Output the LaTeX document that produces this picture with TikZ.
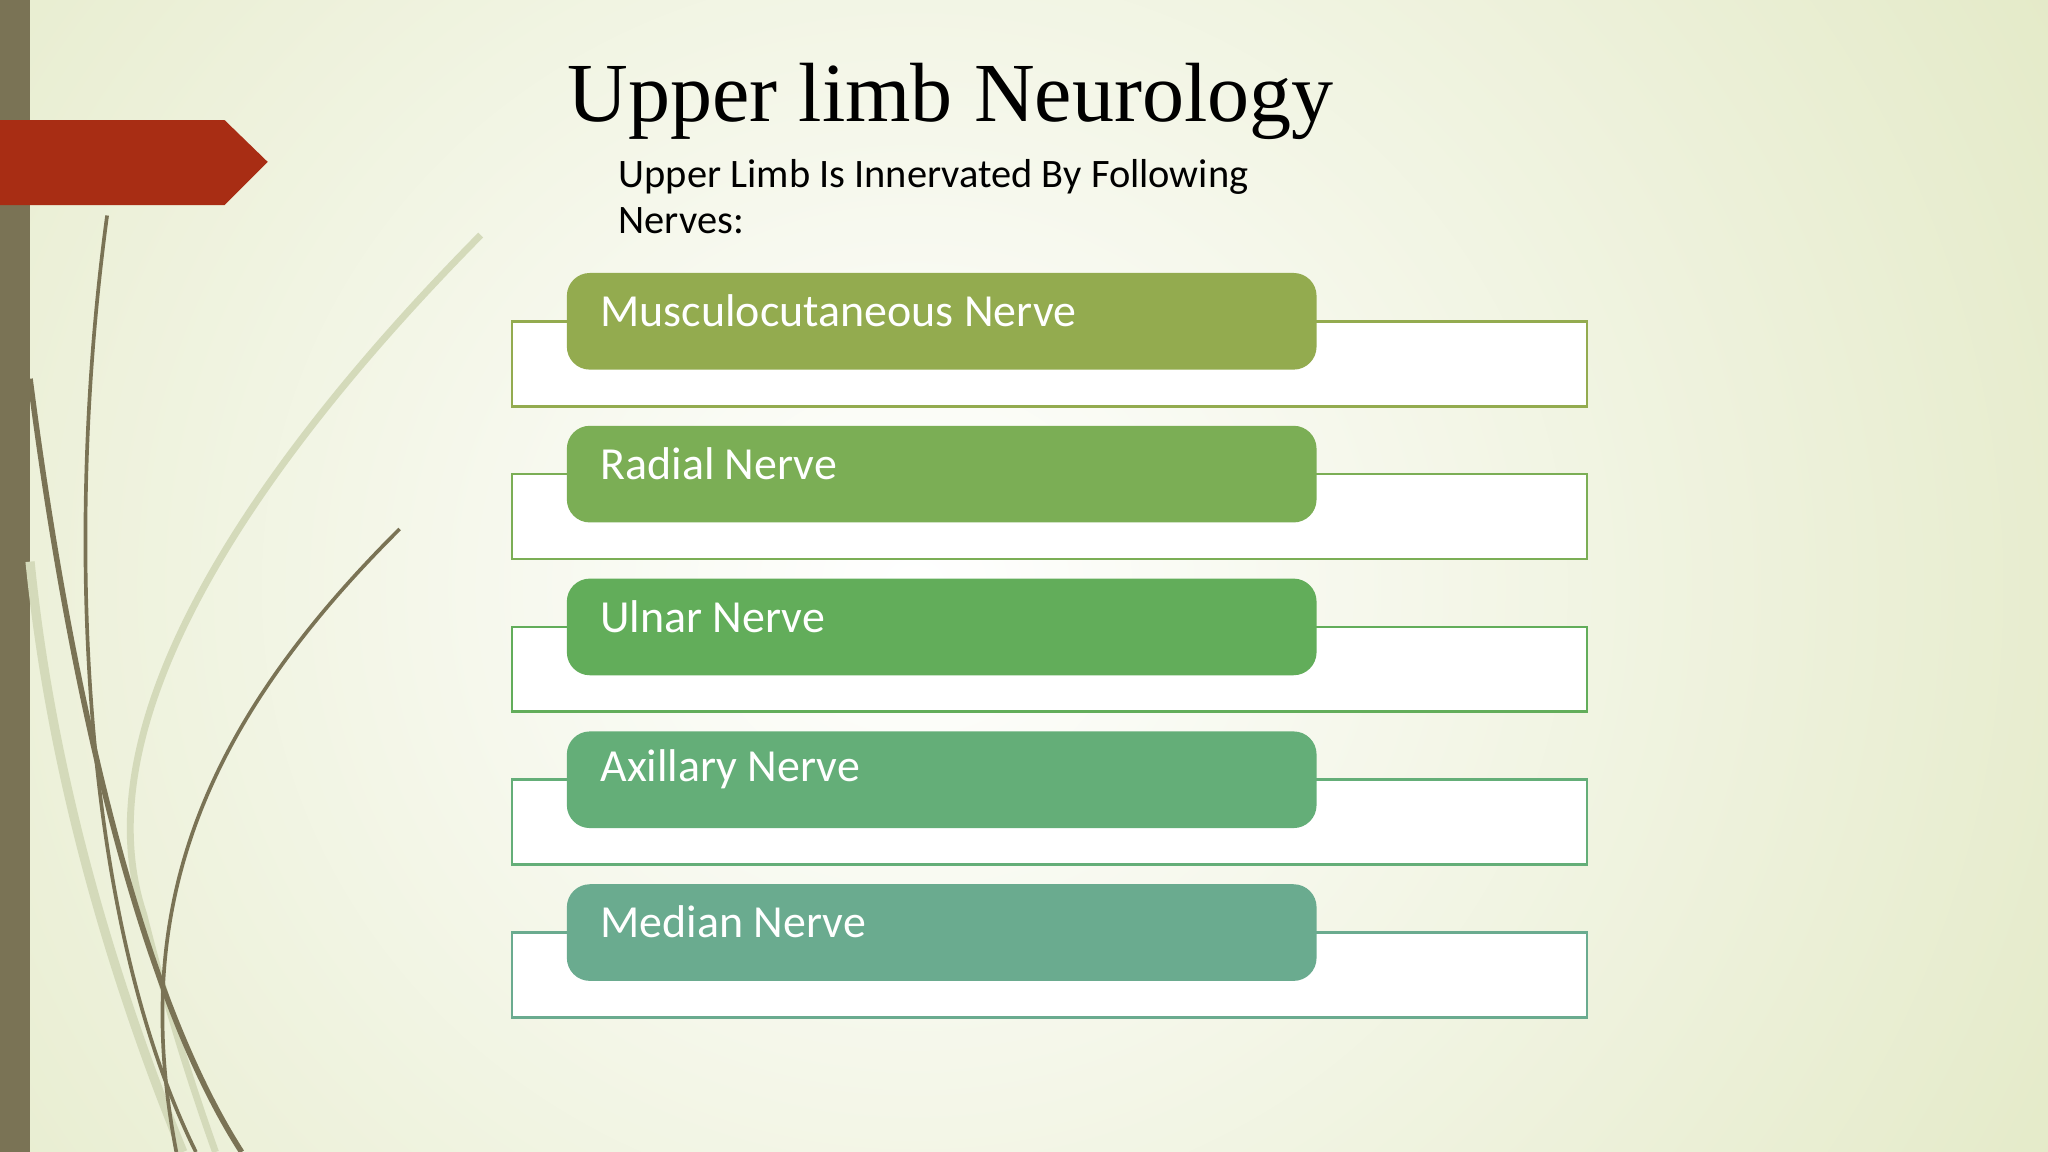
\documentclass[tikz,border=0pt]{standalone}
\usepackage{fontspec}
\setmainfont{Carlito}
\newfontfamily\titlefont{Liberation Serif}
\definecolor{bgedge}{RGB}{228,234,200}
\definecolor{olive}{RGB}{122,115,85}
\definecolor{palecurve}{RGB}{212,218,186}
\definecolor{arrowred}{RGB}{168,45,20}
\definecolor{cA}{RGB}{147,171,79}
\definecolor{cB}{RGB}{123,174,85}
\definecolor{cC}{RGB}{98,173,90}
\definecolor{cD}{RGB}{100,174,120}
\definecolor{cE}{RGB}{106,171,143}
\begin{document}
\begin{tikzpicture}[x=0.01cm,y=-0.01cm,
  outerbox/.style={draw=#1,fill=white,line width=0.6pt},
  nervebox/.style={fill=#1,rounded corners=5pt,draw=none},
  nervetext/.style={anchor=west,inner sep=0pt,text=white,font=\fontsize{10pt}{12pt}\selectfont},
  curve/.style={draw=#1,line width=0.8pt}]
\useasboundingbox (0,0) rectangle (1568,882);
\shade[inner color=white,outer color=bgedge] (-300,-500) rectangle (1700,1400);
% left bar
\fill[olive] (0,0) rectangle (23,882);
% curves
\draw[curve=palecurve,line width=1.5pt] (368,180) .. controls (200,350) and (60,550) .. (110,700) .. controls (130,780) and (150,840) .. (165,882);
\draw[curve=palecurve,line width=2pt] (23,430) .. controls (40,600) and (90,760) .. (140,882);
\draw[curve=olive] (306,405) .. controls (150,560) and (100,700) .. (135,882);
\draw[curve=olive] (82,165) .. controls (50,400) and (60,700) .. (150,882);
\draw[curve=olive,line width=1.2pt] (23,290) .. controls (50,500) and (100,750) .. (185,882);
% red arrow
\fill[arrowred] (0,92) -- (172,92) -- (205,124) -- (172,157) -- (0,157) -- cycle;
% title
\node[anchor=west,inner sep=0pt,font=\titlefont\fontsize{18.3pt}{22pt}\selectfont] (title) at (434,78) {Upper limb Neurology};
\node[anchor=north west,align=left,font=\fontsize{8.8pt}{10.2pt}\selectfont,inner sep=0pt] (sub) at (473,121) {Upper Limb Is Innervated By Following\\Nerves:};
% boxes
\foreach \i/\t/\c in {0/Musculocutaneous Nerve/cA,1/Radial Nerve/cB,2/Ulnar Nerve/cC,3/Axillary Nerve/cD,4/Median Nerve/cE}{
  \path[outerbox=\c] (392,246+117*\i) rectangle (1215,311+117*\i);
  \path[nervebox=\c] (434,209+117*\i) rectangle (1008,283+117*\i);
  \node[nervetext] (n\i) at (459,238+117*\i) {\t};
}
\end{tikzpicture}
\end{document}
